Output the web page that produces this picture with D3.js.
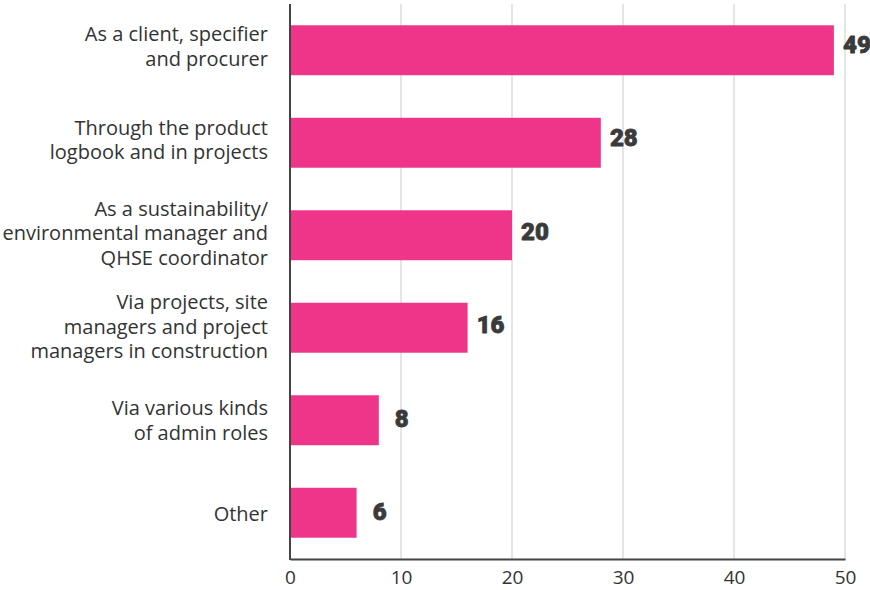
<!DOCTYPE html>
<html>
<head>
<meta charset="utf-8">
<script src="https://cdn.jsdelivr.net/npm/d3@7"></script>
<style>
  html, body { margin: 0; padding: 0; background: #fff; }
  svg { display: block; }
</style>
</head>
<body>
<svg id="chart" width="870" height="590"></svg>
<script>
// Survey answers: how respondents work with the topic
const categories = [
  ["As a client, specifier", "and procurer"],
  ["Through the product", "logbook and in projects"],
  ["As a sustainability/", "environmental manager and", "QHSE coordinator"],
  ["Via projects, site", "managers and project", "managers in construction"],
  ["Via various kinds", "of admin roles"],
  ["Other"]
];
const values = [49, 28, 20, 16, 8, 6];
const xTicks = [0, 10, 20, 30, 40, 50];

const width = 870, height = 590;
const margin = { top: 4, right: 25, bottom: 31, left: 290 };
const innerW = width - margin.left - margin.right;
const innerH = height - margin.top - margin.bottom;

const svg = d3.select("#chart");
const g = svg.append("g").attr("transform", `translate(${margin.left},${margin.top})`);

const x = d3.scaleLinear().domain([0, 50]).range([0, innerW]);
const y = d3.scaleBand().domain(d3.range(values.length)).range([0, innerH]).paddingInner(0.46).paddingOuter(0.23);
// text rows sit on a slightly wider grid than the bars
const yText = d3.scalePoint().domain(d3.range(values.length))
  .range([y(0) + y.bandwidth() / 2 - 5, y(values.length - 1) + y.bandwidth() / 2]);

// vertical grid lines
g.append("g")
  .selectAll("line")
  .data(xTicks.filter(t => t > 0))
  .join("line")
  .attr("x1", d => x(d)).attr("x2", d => x(d))
  .attr("y1", 0).attr("y2", innerH)
  .attr("stroke", "#dcdcdc")
  .attr("stroke-width", 1.5);

// bars
g.append("g")
  .selectAll("rect")
  .data(values)
  .join("rect")
  .attr("x", 0)
  .attr("y", (d, i) => y(i))
  .attr("width", d => x(d))
  .attr("height", y.bandwidth())
  .attr("fill", "#EE3589");

// value labels
g.append("g")
  .selectAll("text")
  .data(values)
  .join("text")
  .attr("x", d => x(d) + 23)
  .attr("y", (d, i) => yText(i) - 1)
  .attr("dy", "0.36em")
  .attr("text-anchor", "middle")
  .attr("font-family", "Roboto, 'Open Sans', sans-serif")
  .attr("font-weight", 900)
  .attr("font-size", 24)
  .attr("fill", "#3a3a3a")
  .attr("stroke", "#3a3a3a")
  .attr("stroke-width", 0.8)
  .attr("stroke-linejoin", "round")
  .text(d => d);

// category labels
const lineH = 24.5;
const labels = g.append("g")
  .selectAll("text")
  .data(categories)
  .join("text")
  .attr("text-anchor", "end")
  .attr("font-family", "'Open Sans', sans-serif")
  .attr("font-size", 20)
  .attr("fill", "#333")
  .attr("transform", (d, i) => `translate(-22,${yText(i) + 1})`);
labels.selectAll("tspan")
  .data(d => d.map((t, k) => ({ t, k, n: d.length })))
  .join("tspan")
  .attr("x", 0)
  .attr("y", d => (d.k - (d.n - 1) / 2) * lineH)
  .attr("dy", "0.35em")
  .text(d => d.t);

// bottom axis
const xAxis = g.append("g")
  .attr("transform", `translate(0,${innerH})`)
  .call(d3.axisBottom(x).tickValues(xTicks).tickSize(0).tickPadding(12));
xAxis.select(".domain").attr("stroke", "#444").attr("stroke-width", 2);
xAxis.selectAll("text")
  .attr("font-family", "'Open Sans', sans-serif")
  .attr("font-size", 19)
  .attr("fill", "#333");

// left axis line
g.append("line")
  .attr("x1", 0).attr("x2", 0)
  .attr("y1", 0).attr("y2", innerH + 1)
  .attr("stroke", "#444")
  .attr("stroke-width", 2);
</script>
</body>
</html>
